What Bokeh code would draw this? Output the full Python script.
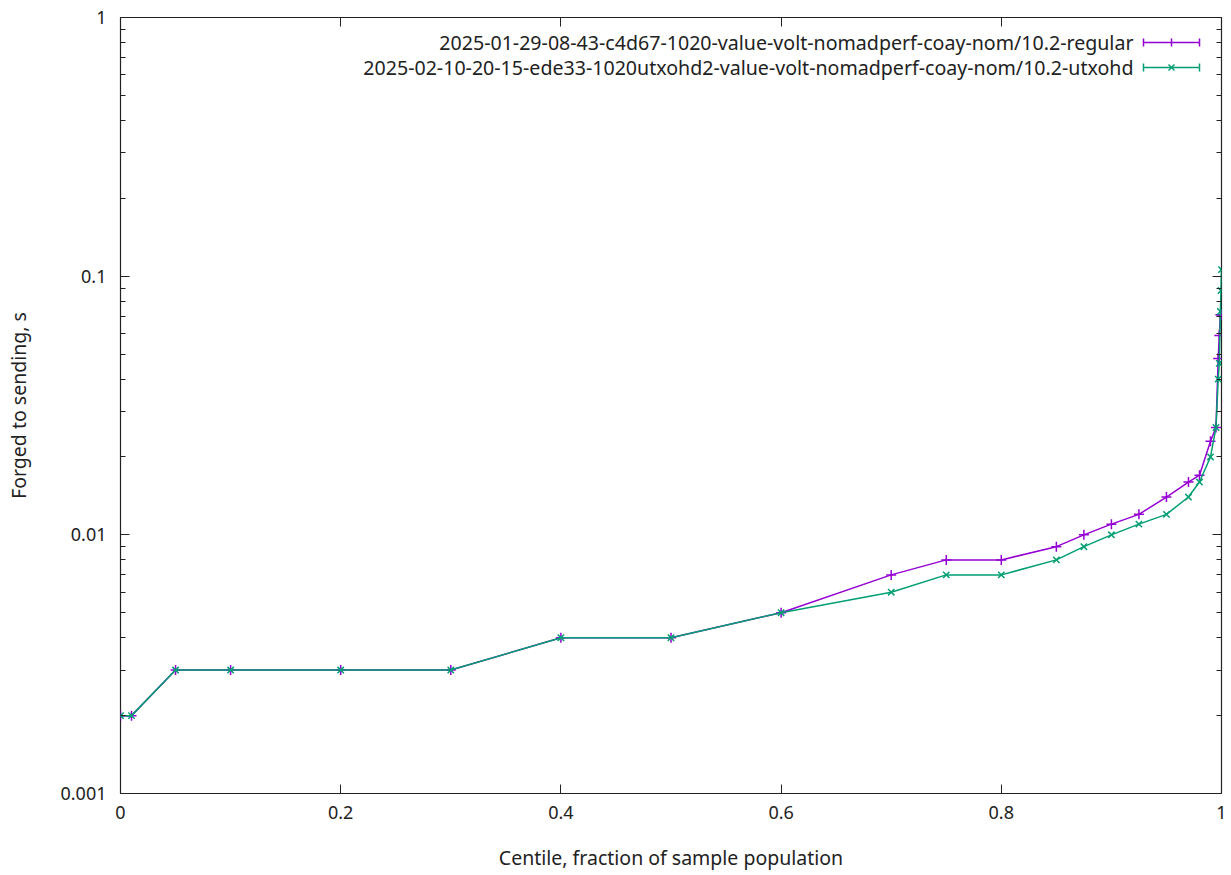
from bokeh.plotting import figure
from bokeh.models import (LinearAxis, LogAxis, FixedTicker, CustomJSTickFormatter,
                          Label, Arrow, TeeHead, Range1d)
from bokeh.embed import file_html
from bokeh.resources import INLINE

# Centile positions and latency (seconds) for the two runs
centile = [0, 0.01, 0.05, 0.1, 0.2, 0.3, 0.4, 0.5, 0.6, 0.7, 0.75, 0.8, 0.85,
           0.875, 0.9, 0.925, 0.95, 0.97, 0.98, 0.99, 0.995, 0.997, 0.998,
           0.999, 0.9995, 1.0]
regular = [0.002, 0.002, 0.003, 0.003, 0.003, 0.003, 0.004, 0.004, 0.005,
           0.007, 0.008, 0.008, 0.009, 0.010, 0.011, 0.012, 0.014, 0.016,
           0.017, 0.023, 0.026, 0.048, 0.059, 0.071, 0.071, 0.071]
utxohd = [0.002, 0.002, 0.003, 0.003, 0.003, 0.003, 0.004, 0.004, 0.005,
          0.006, 0.007, 0.007, 0.008, 0.009, 0.010, 0.011, 0.012, 0.014,
          0.016, 0.020, 0.026, 0.040, 0.046, 0.073, 0.088, 0.106]

series_names = [
    "2025-01-29-08-43-c4d67-1020-value-volt-nomadperf-coay-nom/10.2-regular",
    "2025-02-10-20-15-ede33-1020utxohd2-value-volt-nomadperf-coay-nom/10.2-utxohd",
]
x_ticks = [0, 0.2, 0.4, 0.6, 0.8, 1]
y_ticks = [0.001, 0.01, 0.1, 1]
y_minor = [m * d for d in (0.001, 0.01, 0.1) for m in range(2, 10)]

PURPLE = "#9400d3"
GREEN = "#009e73"
FONT = "Noto Sans"
TICK_FS = "18px"
LABEL_FS = "19.5px"
KEY_FS = "19.6px"
INK = "#222222"

p = figure(width=1231, height=875, y_axis_type="log",
           x_range=Range1d(0, 1), y_range=Range1d(0.001, 1),
           output_backend="svg", toolbar_location=None,
           min_border_left=120, min_border_right=10,
           min_border_top=17, min_border_bottom=82)
p.xgrid.visible = False
p.ygrid.visible = False
p.outline_line_color = INK
p.outline_line_width = 1.2
p.background_fill_color = "white"
p.border_fill_color = "white"

fmt = CustomJSTickFormatter(code="return String(+tick.toPrecision(6));")
blank = CustomJSTickFormatter(code="return '';")

xa = p.xaxis[0]
xa.ticker = FixedTicker(ticks=x_ticks)
xa.formatter = fmt
xa.axis_label = "Centile, fraction of sample population"

ya = p.yaxis[0]
ya.ticker = FixedTicker(ticks=y_ticks, minor_ticks=y_minor)
ya.formatter = fmt
ya.axis_label = "Forged to sending, s"

for ax in (xa, ya):
    ax.axis_line_color = None
    ax.major_tick_in = 9
    ax.major_tick_out = 0
    ax.minor_tick_in = 5
    ax.minor_tick_out = 0
    ax.major_tick_line_color = INK
    ax.minor_tick_line_color = INK
    ax.major_label_text_font = FONT
    ax.major_label_text_font_size = TICK_FS
    ax.major_label_text_color = INK
    ax.axis_label_text_font = FONT
    ax.axis_label_text_font_size = LABEL_FS
    ax.axis_label_text_font_style = "normal"
    ax.axis_label_text_color = INK
xa.minor_tick_line_color = None
xa.major_label_standoff = 12
xa.axis_label_standoff = 22
ya.major_label_standoff = 14
ya.axis_label_standoff = 25

# Mirrored tick marks on the top and right borders
top = LinearAxis(ticker=FixedTicker(ticks=x_ticks), formatter=blank,
                 major_label_standoff=0, axis_line_color=None,
                 major_tick_in=9, major_tick_out=0, minor_tick_line_color=None,
                 major_tick_line_color=INK)
right = LogAxis(ticker=FixedTicker(ticks=y_ticks, minor_ticks=y_minor),
                formatter=blank, major_label_standoff=0,
                axis_line_color=None, major_tick_in=9, major_tick_out=0,
                minor_tick_in=5, minor_tick_out=0,
                major_tick_line_color=INK, minor_tick_line_color=INK)
p.add_layout(top, "above")
p.add_layout(right, "right")

# Data series
p.line(centile, regular, line_color=PURPLE, line_width=1.5)
p.scatter(centile, regular, marker="cross", size=10, line_color=PURPLE, line_width=1.5)
p.line(centile, utxohd, line_color=GREEN, line_width=1.5)
p.scatter(centile, utxohd, marker="x", size=9, line_color=GREEN, line_width=1.5)

# Key in the upper-right corner: text, then the sample line on its right
rows = [(PURPLE, "cross", 751), (GREEN, "x", 726)]
for (color, mk, sy), name in zip(rows, series_names):
    p.add_layout(Label(x=1013, y=sy, x_units="screen", y_units="screen",
                       text=name, text_align="right", text_baseline="middle",
                       text_font=FONT, text_font_size=KEY_FS, text_color=INK))
    p.add_layout(Arrow(x_start=1023, y_start=sy, x_end=1079, y_end=sy,
                       start_units="screen", end_units="screen",
                       start=TeeHead(size=8, line_color=color, line_width=1.5),
                       end=TeeHead(size=8, line_color=color, line_width=1.5),
                       line_color=color, line_width=1.5))
    cx = 1051
    if mk == "cross":
        segs = [(cx, sy - 4, cx, sy + 4)]
    else:
        segs = [(cx - 3, sy - 3, cx + 3, sy + 3), (cx - 3, sy + 3, cx + 3, sy - 3)]
    for x0, y0, x1, y1 in segs:
        p.add_layout(Arrow(x_start=x0, y_start=y0, x_end=x1, y_end=y1,
                           start_units="screen", end_units="screen", end=None,
                           line_color=color, line_width=1.5))

open("out.html", "w").write(file_html(p, INLINE))
